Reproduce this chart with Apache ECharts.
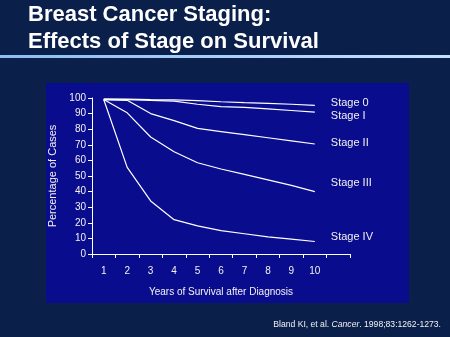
<!DOCTYPE html>
<html>
<head>
<meta charset="utf-8">
<script src="https://cdn.jsdelivr.net/npm/echarts@6/dist/echarts.min.js"></script>
<style>
html,body{margin:0;padding:0;background:#0b1f4b;}
#c{width:450px;height:337px;}
</style>
</head>
<body>
<div id="c"></div>
<script>
var years = ['1','2','3','4','5','6','7','8','9','10',''];
var stageNames = ['Stage 0','Stage I','Stage II','Stage III','Stage IV'];
var stage0 = [99.5, 99.3, 99, 98.8, 98.3, 97.6, 97, 96.5, 96, 95.3];
var stage1 = [99, 99, 98.5, 98, 96, 94.5, 94, 93, 92, 91];
var stage2 = [99, 98.5, 90, 85.5, 80.5, 78.5, 76.5, 74.5, 72.5, 70.5];
var stage3 = [99, 90.5, 75, 65.5, 58.5, 54.5, 51, 47.5, 44, 40];
var stage4 = [99, 55.5, 34, 22, 18, 15, 13, 11, 9.5, 8];
var yTicks = [0,10,20,30,40,50,60,70,80,90,100];
var labelOffsets = [[16,-2],[16,4],[16,-1],[16,-9],[16,-5]];

var seriesData = [stage0, stage1, stage2, stage3, stage4];
var txt = '#f2f2f2';
var ff = '"Liberation Sans", Arial, sans-serif';
var chart = echarts.init(document.getElementById('c'), null, {renderer:'canvas'});
chart.setOption({
  backgroundColor: '#0b1f4b',
  animation: false,
  graphic: [
    {type:'text', left:28, top:1, style:{text:'Breast Cancer Staging:\nEffects of Stage on Survival', fill:'#ffffff', font:'bold 22px ' + ff, lineHeight:27}},
    {type:'rect', shape:{x:0,y:55,width:450,height:3}, style:{fill:new echarts.graphic.LinearGradient(0,0,1,0,[{offset:0,color:'#8fbcf2'},{offset:1,color:'#c4e0ff'}])}},
    {type:'rect', z:-10, shape:{x:46,y:83,width:363,height:220}, style:{fill:'#0a0c8e'}},
    {type:'text', right:9, top:320, style:{
      text:'{n|Bland KI, et al. }{i|Cancer}{n|. 1998;83:1262-1273.}',
      rich:{n:{fill:txt, font:'8.6px ' + ff}, i:{fill:txt, font:'italic 8.6px ' + ff}}}}
  ],
  grid: {left:92, right:100, top:98, bottom:83},
  xAxis: {
    type:'category', data: years, boundaryGap:true,
    name:'Years of Survival after Diagnosis', nameLocation:'middle', nameGap:33,
    nameTextStyle:{color:txt, fontSize:10, fontFamily:ff},
    axisLine:{lineStyle:{color:'#ffffff', width:1}},
    axisTick:{show:true, length:4, lineStyle:{color:'#ffffff'}, interval:0},
    axisLabel:{color:txt, fontSize:10, margin:12, interval:0, fontFamily:ff},
    splitLine:{show:false}
  },
  yAxis: {
    type:'value', min:0, max:100, interval:10,
    name:'Percentage of Cases', nameLocation:'middle', nameGap:31,
    nameTextStyle:{color:txt, fontSize:11, fontFamily:ff},
    axisLine:{show:true, lineStyle:{color:'#ffffff', width:1}},
    axisTick:{show:true, length:4, lineStyle:{color:'#ffffff'}},
    axisLabel:{color:txt, fontSize:10, margin:6, fontFamily:ff,
      formatter:function(v){return yTicks.indexOf(v)>=0 ? String(v) : '';}},
    splitLine:{show:false}
  },
  series: seriesData.map(function(d,i){
    return {
      type:'line', name: stageNames[i], data: d, symbol:'none', smooth:false,
      lineStyle:{color:'#ffffff', width:1.2},
      endLabel:{show:true, formatter: stageNames[i], color:txt, fontSize:11, distance:0,
        offset: labelOffsets[i], fontFamily:ff}
    };
  })
});
</script>
</body>
</html>
